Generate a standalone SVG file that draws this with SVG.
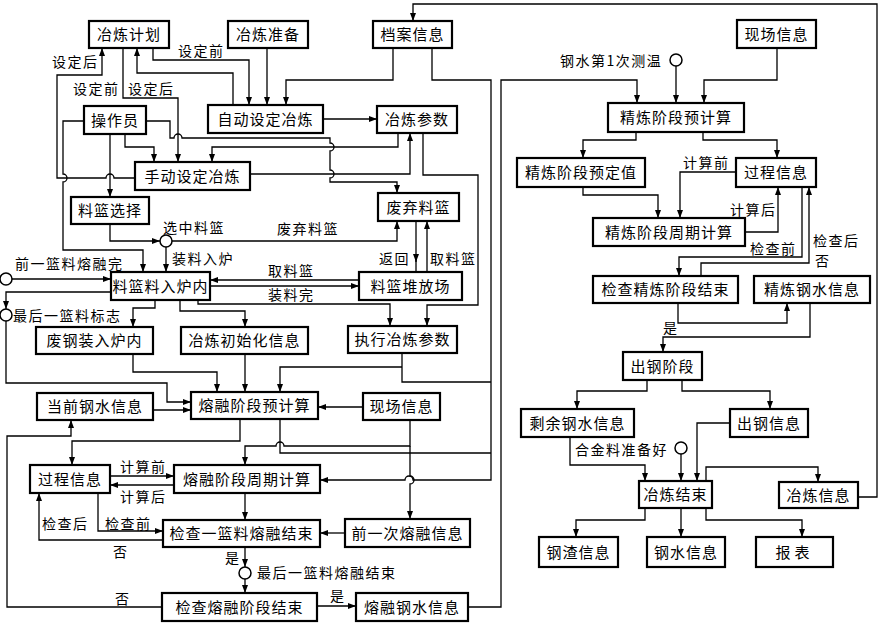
<svg xmlns="http://www.w3.org/2000/svg" width="880" height="623" viewBox="0 0 880 623">
<style>
.box{fill:#fff;stroke:#000;stroke-width:2.2}
.t{font-family:"Noto Sans CJK SC","Noto Sans",sans-serif;font-size:15px;letter-spacing:1px;text-anchor:middle;fill:#000}
.l{font-family:"Noto Sans CJK SC","Noto Sans",sans-serif;font-size:14px;letter-spacing:1.5px;fill:#000}
.c{fill:none;stroke:#000;stroke-width:1.3}
.a{marker-end:url(#ah)}
.ev{fill:#fff;stroke:#000;stroke-width:1.5}
</style>
<defs>
<marker id="ah" markerUnits="userSpaceOnUse" markerWidth="9" markerHeight="7" refX="8" refY="3" orient="auto">
<path d="M0,0 L8,3 L0,6 z" fill="#000"/>
</marker>
</defs>
<rect width="880" height="623" fill="#fff"/>
<g id="connectors">
<path class="c a" d="M135,178 H114 A4,4 0 0 0 106,178 H57 V75 H102 V48"/>
<path class="c a" d="M84,121 H63 V174 A4,4 0 0 1 63,182 V250 H143 V272"/>
<path class="c a" d="M110,134 V197"/>
<path class="c a" d="M125,134 V147 H154 V162"/>
<path class="c a" d="M123,48 V98 H178 V162"/>
<path class="c a" d="M233,105 V73 H137 V48"/>
<path class="c a" d="M153,48 V60 H249 V105"/>
<path class="c a" d="M267,48 V105"/>
<path class="c a" d="M393,48 V80 H286 V105"/>
<path class="c a" d="M432,48 V80 H491 V480 H413 A4,4 0 0 0 405,480 H320"/>
<path class="c a" d="M323,119 H377"/>
<path class="c a" d="M398,133 V147 H212 V162"/>
<path class="c a" d="M146,121 H170 V138 H174 A4,4 0 0 1 182,138 H330 V143 A4,4 0 0 1 330,151 V170 A4,4 0 0 1 330,178 V182 H397 V193"/>
<path class="c a" d="M423,133 V175 H478 V305 H427 V326"/>
<path class="c a" d="M250,174 H410 V133"/>
<path class="c a" d="M110,224 V241 H160"/>
<path class="c a" d="M172,241 H397 V221"/>
<path class="c a" d="M166,247 V272"/>
<path class="c a" d="M416,221 V262"/>
<path class="c" d="M416,258 V272"/>
<path class="c a" d="M427,272 V221"/>
<path class="c a" d="M359,280 H210"/>
<path class="c a" d="M210,286 H359"/>
<path class="c a" d="M12,279 H111"/>
<path class="c a" d="M111,292 H6 V309"/>
<path class="c a" d="M6,321 V383 H167 V402 H191"/>
<path class="c a" d="M155,300 V308 H133 V327"/>
<path class="c a" d="M180,300 V311 H245 V327"/>
<path class="c a" d="M198,300 V304 H390 V326"/>
<path class="c a" d="M133,354 V372 H217 V392"/>
<path class="c a" d="M245,354 V392"/>
<path class="c" d="M402,353 V382 H491"/>
<path class="c a" d="M402,367 H280 V392"/>
<path class="c a" d="M153,410 H191"/>
<path class="c a" d="M363,407 H318"/>
<path class="c a" d="M240,419 V441 H72 V465"/>
<path class="c a" d="M410,420 V446 H284 A4,4 0 0 0 276,446 H245 V465"/>
<path class="c a" d="M410,446 V476 A4,4 0 0 1 410,484 V519"/>
<path class="c" d="M280,419 V453 H491"/>
<path class="c a" d="M110,476 H174"/>
<path class="c a" d="M174,485 H110"/>
<path class="c a" d="M98,493 V531 H163"/>
<path class="c a" d="M163,540 H39 V493"/>
<path class="c a" d="M245,493 V520"/>
<path class="c a" d="M345,533 H320"/>
<path class="c a" d="M245,547 V567"/>
<path class="c a" d="M245,579 V593"/>
<path class="c a" d="M317,606 H356"/>
<path class="c a" d="M162,607 H7 V436 H71 V420"/>
<path class="c a" d="M468,607 H501 V80 H637 V103"/>
<path class="c a" d="M858,497 H877 V4 H413 V21"/>
<path class="c a" d="M777,48 V80 H704 V103"/>
<path class="c a" d="M676,66 V103"/>
<path class="c a" d="M636,132 V140 H583 V158"/>
<path class="c a" d="M703,132 V140 H777 V158"/>
<path class="c a" d="M583,187 V195 H658 V218"/>
<path class="c a" d="M736,172 H680 V218"/>
<path class="c a" d="M745,232 H778 V187"/>
<path class="c a" d="M802,187 V257 H679 V276"/>
<path class="c a" d="M701,276 V263 H809 V187"/>
<path class="c a" d="M678,303 V323 H787 V303"/>
<path class="c a" d="M810,303 V337 H663 V352"/>
<path class="c a" d="M647,380 V391 H577 V409"/>
<path class="c a" d="M682,380 V391 H770 V409"/>
<path class="c a" d="M570,437 V465 H645 V481"/>
<path class="c a" d="M681,454 V481"/>
<path class="c a" d="M730,423 H697 V481"/>
<path class="c a" d="M706,481 V467 H818 V482"/>
<path class="c a" d="M645,508 V520 H576 V537"/>
<path class="c a" d="M681,508 V537"/>
<path class="c a" d="M706,508 V520 H802 V537"/>
</g>
<g id="connector-labels">
<text class="l" x="52" y="67">设定后</text>
<text class="l" x="73" y="94">设定前</text>
<text class="l" x="128" y="94">设定后</text>
<text class="l" x="178" y="56">设定前</text>
<text class="l" x="163" y="233">选中料篮</text>
<text class="l" x="277" y="234">废弃料篮</text>
<text class="l" x="172" y="264">装料入炉</text>
<text class="l" x="15" y="269">前一篮料熔融完</text>
<text class="l" x="379" y="264">返回</text>
<text class="l" x="430" y="264">取料篮</text>
<text class="l" x="268" y="276">取料篮</text>
<text class="l" x="268" y="300">装料完</text>
<text class="l" x="13" y="321">最后一篮料标志</text>
<text class="l" x="120" y="472">计算前</text>
<text class="l" x="120" y="502">计算后</text>
<text class="l" x="42" y="529">检查后</text>
<text class="l" x="105" y="529">检查前</text>
<text class="l" x="113" y="557">否</text>
<text class="l" x="115" y="604">否</text>
<text class="l" x="225" y="563">是</text>
<text class="l" x="257" y="578">最后一篮料熔融结束</text>
<text class="l" x="330" y="601">是</text>
<text class="l" x="560" y="66">钢水第1次测温</text>
<text class="l" x="575" y="455">合金料准备好</text>
<text class="l" x="683" y="168">计算前</text>
<text class="l" x="730" y="215">计算后</text>
<text class="l" x="750" y="254">检查前</text>
<text class="l" x="813" y="246">检查后</text>
<text class="l" x="815" y="266">否</text>
<text class="l" x="663" y="333">是</text>
</g>
<g id="events">
<circle id="e-xuanzhong" class="ev" cx="166" cy="241" r="6"/>
<circle id="e-qianyilan" class="ev" cx="6" cy="279" r="6"/>
<circle id="e-zuihou" class="ev" cx="6" cy="315" r="6"/>
<circle id="e-zuihourongrong" class="ev" cx="245" cy="573" r="6"/>
<circle id="e-cewen" class="ev" cx="676" cy="60" r="6"/>
<circle id="e-hejin" class="ev" cx="681" cy="448" r="6"/>
</g>
<g id="n1"><rect class="box" x="89" y="21" width="80" height="27"/><text class="t" x="129" y="40">冶炼计划</text></g>
<g id="n2"><rect class="box" x="228" y="21" width="80" height="27"/><text class="t" x="268" y="40">冶炼准备</text></g>
<g id="n3"><rect class="box" x="373" y="21" width="79" height="27"/><text class="t" x="412.5" y="40">档案信息</text></g>
<g id="n4"><rect class="box" x="208" y="105" width="115" height="28"/><text class="t" x="265.5" y="124.5">自动设定冶炼</text></g>
<g id="n5"><rect class="box" x="377" y="106" width="80" height="27"/><text class="t" x="417" y="125">冶炼参数</text></g>
<g id="n6"><rect class="box" x="84" y="106" width="62" height="28"/><text class="t" x="115" y="125.5">操作员</text></g>
<g id="n7"><rect class="box" x="135" y="162" width="115" height="28"/><text class="t" x="192.5" y="181.5">手动设定冶炼</text></g>
<g id="n8"><rect class="box" x="71" y="197" width="78" height="27"/><text class="t" x="110" y="216">料篮选择</text></g>
<g id="n9"><rect class="box" x="378" y="193" width="81" height="28"/><text class="t" x="418.5" y="212.5">废弃料篮</text></g>
<g id="n10"><rect class="box" x="111" y="272" width="99" height="28"/><text class="t" x="160.5" y="291.5">料篮料入炉内</text></g>
<g id="n11"><rect class="box" x="359" y="272" width="103" height="28"/><text class="t" x="410.5" y="291.5">料篮堆放场</text></g>
<g id="n12"><rect class="box" x="36" y="327" width="117" height="27"/><text class="t" x="94.5" y="346">废钢装入炉内</text></g>
<g id="n13"><rect class="box" x="181" y="327" width="127" height="27"/><text class="t" x="244.5" y="346">冶炼初始化信息</text></g>
<g id="n14"><rect class="box" x="348" y="326" width="109" height="27"/><text class="t" x="402.5" y="345">执行冶炼参数</text></g>
<g id="n15"><rect class="box" x="37" y="393" width="116" height="27"/><text class="t" x="95" y="412">当前钢水信息</text></g>
<g id="n16"><rect class="box" x="191" y="392" width="127" height="27"/><text class="t" x="254.5" y="411">熔融阶段预计算</text></g>
<g id="n17"><rect class="box" x="363" y="393" width="77" height="27"/><text class="t" x="401.5" y="412">现场信息</text></g>
<g id="n18"><rect class="box" x="30" y="465" width="80" height="28"/><text class="t" x="70" y="484.5">过程信息</text></g>
<g id="n19"><rect class="box" x="174" y="465" width="146" height="28"/><text class="t" x="247" y="484.5">熔融阶段周期计算</text></g>
<g id="n20"><rect class="box" x="163" y="520" width="157" height="27"/><text class="t" x="241.5" y="539">检查一篮料熔融结束</text></g>
<g id="n21"><rect class="box" x="345" y="519" width="125" height="28"/><text class="t" x="407.5" y="538.5">前一次熔融信息</text></g>
<g id="n22"><rect class="box" x="162" y="593" width="155" height="28"/><text class="t" x="239.5" y="612.5">检查熔融阶段结束</text></g>
<g id="n23"><rect class="box" x="356" y="593" width="112" height="28"/><text class="t" x="412" y="612.5">熔融钢水信息</text></g>
<g id="n24"><rect class="box" x="737" y="20" width="79" height="28"/><text class="t" x="776.5" y="39.5">现场信息</text></g>
<g id="n25"><rect class="box" x="608" y="103" width="136" height="29"/><text class="t" x="676" y="123">精炼阶段预计算</text></g>
<g id="n26"><rect class="box" x="517" y="158" width="128" height="29"/><text class="t" x="581" y="178">精炼阶段预定值</text></g>
<g id="n27"><rect class="box" x="736" y="158" width="80" height="29"/><text class="t" x="776" y="178">过程信息</text></g>
<g id="n28"><rect class="box" x="593" y="218" width="152" height="28"/><text class="t" x="669" y="237.5">精炼阶段周期计算</text></g>
<g id="n29"><rect class="box" x="593" y="276" width="145" height="27"/><text class="t" x="665.5" y="295">检查精炼阶段结束</text></g>
<g id="n30"><rect class="box" x="754" y="276" width="116" height="27"/><text class="t" x="812" y="295">精炼钢水信息</text></g>
<g id="n31"><rect class="box" x="623" y="352" width="79" height="28"/><text class="t" x="662.5" y="371.5">出钢阶段</text></g>
<g id="n32"><rect class="box" x="521" y="409" width="113" height="28"/><text class="t" x="577.5" y="428.5">剩余钢水信息</text></g>
<g id="n33"><rect class="box" x="730" y="409" width="78" height="28"/><text class="t" x="769" y="428.5">出钢信息</text></g>
<g id="n34"><rect class="box" x="639" y="481" width="73" height="27"/><text class="t" x="675.5" y="500">冶炼结束</text></g>
<g id="n35"><rect class="box" x="779" y="482" width="79" height="26"/><text class="t" x="818.5" y="500.5">冶炼信息</text></g>
<g id="n36"><rect class="box" x="539" y="537" width="79" height="30"/><text class="t" x="578.5" y="557.5">钢渣信息</text></g>
<g id="n37"><rect class="box" x="647" y="537" width="78" height="30"/><text class="t" x="686" y="557.5">钢水信息</text></g>
<g id="n38"><rect class="box" x="756" y="537" width="77" height="30"/><text class="t" x="794.5" y="557.5" style="letter-spacing:4px">报表</text></g>
</svg>
